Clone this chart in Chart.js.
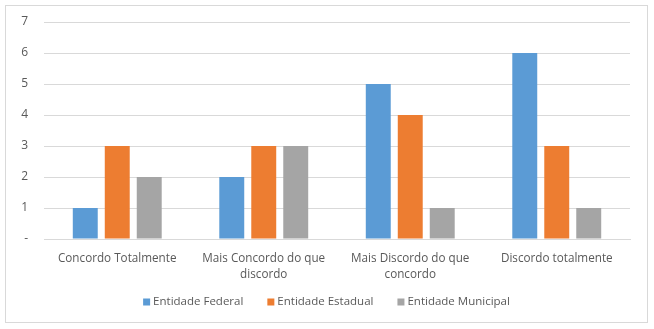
<!DOCTYPE html>
<html>
<head>
<meta charset="utf-8">
<script src="https://cdn.jsdelivr.net/npm/chart.js@4.4.1/dist/chart.umd.min.js"></script>
<style>
  html, body { margin: 0; padding: 0; background: #fff; }
  #box { position: absolute; left: 5px; top: 5px; width: 641px; height: 316px; border: 1px solid #d9d9d9; }
</style>
</head>
<body>
<div id="box"><canvas id="chart" width="641" height="316"></canvas></div>
<script>
// categorias e séries
const categories = [
  ["Concordo Totalmente"],
  ["Mais Concordo do que", "discordo"],
  ["Mais Discordo do que", "concordo"],
  ["Discordo totalmente"]
];
const federal = [1, 2, 5, 6];
const estadual = [3, 3, 4, 3];
const municipal = [2, 3, 1, 1];
const yTicks = [0, 1, 2, 3, 4, 5, 6, 7];

const txt = "#595959";
const fam = "'Open Sans', 'Noto Sans', sans-serif";
const font = { family: fam, size: 12 };

// rótulos do eixo x e legenda desenhados à mão
const extras = {
  id: "extras",
  afterDraw(chart) {
    const { ctx, scales: { x } } = chart;
    ctx.save();
    ctx.fillStyle = txt;
    ctx.font = "11.7px " + fam;
    ctx.textAlign = "center";
    ctx.textBaseline = "middle";
    categories.forEach((lines, i) => {
      const px = x.getPixelForValue(i);
      lines.forEach((l, j) => ctx.fillText(l, px, x.top + 20 + j * 16));
    });

    // legenda
    ctx.font = "11.5px " + fam;
    ctx.textAlign = "left";
    const ds = chart.data.datasets;
    const box = 7, gap = 3, space = 24;
    const widths = ds.map(d => box + gap + ctx.measureText(d.label).width);
    const total = widths.reduce((a, b) => a + b, 0) + space * (ds.length - 1);
    let lx = (chart.width - total) / 2;
    const ly = x.bottom + 19;
    ds.forEach((d, i) => {
      ctx.fillStyle = d.backgroundColor;
      ctx.fillRect(lx, ly - box / 2, box, box);
      ctx.fillStyle = txt;
      ctx.fillText(d.label, lx + box + gap, ly);
      lx += widths[i] + space;
    });
    ctx.restore();
  }
};

new Chart(document.getElementById("chart"), {
  type: "bar",
  data: {
    labels: categories.map(c => c.join(" ")),
    datasets: [
      { label: "Entidade Federal", data: federal, backgroundColor: "#5b9bd5" },
      { label: "Entidade Estadual", data: estadual, backgroundColor: "#ed7d31" },
      { label: "Entidade Municipal", data: municipal, backgroundColor: "#a5a5a5" },
    ]
  },
  options: {
    responsive: false,
    animation: false,
    layout: { autoPadding: false, padding: { top: 16, right: 17, left: 0, bottom: 39 } },
    datasets: { bar: { categoryPercentage: 0.655, barPercentage: 0.78 } },
    scales: {
      x: {
        afterFit: (s) => { s.height = 44; },
        grid: { display: false, drawTicks: false },
        border: { color: "#d9d9d9" },
        ticks: { display: false }
      },
      y: {
        min: 0, max: 7,
        afterFit: (s) => { s.width = 38; s.paddingTop = 0; },
        afterBuildTicks: (s) => { s.ticks = yTicks.map(v => ({ value: v })); },
        grid: { color: "#d9d9d9", drawTicks: false },
        border: { display: false },
        ticks: { color: txt, font, padding: 16, callback: (v) => v === 0 ? "-" : v }
      }
    },
    plugins: {
      legend: { display: false },
      tooltip: { enabled: false }
    }
  },
  plugins: [extras]
});
</script>
</body>
</html>
